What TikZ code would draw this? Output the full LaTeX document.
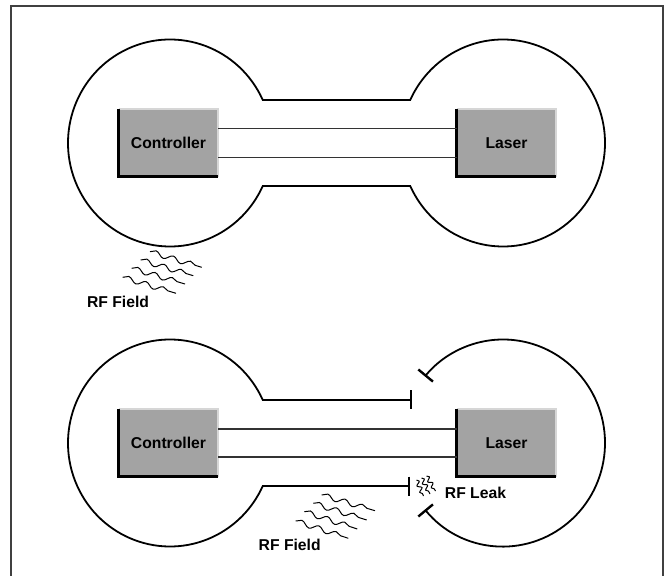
\documentclass[tikz,border=0pt]{standalone}
\usepackage{fontspec}
\setsansfont{Liberation Sans}
\usepackage{tikz}
\usetikzlibrary{arrows.meta,calc,decorations.pathmorphing}
\definecolor{boxgray}{gray}{.64}
\definecolor{boxlight}{gray}{.84}
\definecolor{framegray}{gray}{.25}
\definecolor{wiregray}{gray}{.2}

\begin{document}
\begin{tikzpicture}[x=1pt,y=1pt,
  every node/.style={font=\sffamily\bfseries\fontsize{15.7}{18}\selectfont},
  unit/.style={fill=boxgray,minimum width=99pt,minimum height=67pt,inner sep=0pt},
  edgelit/.style={boxlight,line width=2.2pt},
  edgedark/.style={black,line width=3pt},
  hull/.style={line width=1.8pt},
  gap/.style={hull,{Bar[width=19pt,line width=2.4pt]}-{Bar[width=19pt,line width=2.4pt]}},
  wire/.style={wiregray,line width=1.1pt},
  wave/.style={decorate,decoration={snake,segment length=18pt,amplitude=2.6pt},line width=1pt},
  leak/.style={decorate,decoration={snake,segment length=7pt,amplitude=2pt},line width=1pt}]
\useasboundingbox (0,0) rectangle (668,575);
\draw[framegray,line width=1.6pt] (11,-5) -- (11,569) -- (663,569) -- (663,-5);

% closed shield
\coordinate (lcA) at (170,432);
\coordinate (rcA) at (503,432);
\draw[hull] ($(lcA)+(24.55:102pt and 103.5pt)$) arc[start angle=24.55,end angle=335.45,x radius=102pt,y radius=103.5pt]
  -- ($(rcA)+(204.55:102pt and 103.5pt)$) arc[start angle=204.55,end angle=515.45,x radius=102pt,y radius=103.5pt] -- cycle;
\node[unit] (ctrlA) at (168.5,432) {Controller};
\node[unit] (laserA) at (506.5,432) {Laser};
\draw[edgelit] (ctrlA.south east) -- (ctrlA.north east) -- (ctrlA.north west);
\draw[edgedark] (ctrlA.north west) -- (ctrlA.south west) -- (ctrlA.south east);
\draw[edgelit] (laserA.south east) -- (laserA.north east) -- (laserA.north west);
\draw[edgedark] (laserA.north west) -- (laserA.south west) -- (laserA.south east);
\draw[wire] ([yshift=14.5pt]ctrlA.east) -- ([yshift=14.5pt]laserA.west);
\draw[wire] ([yshift=-14.5pt]ctrlA.east) -- ([yshift=-14.5pt]laserA.west);
\draw[wave] (150,323.3) -- (201.7,307.7);
\draw[wave] (140.7,315) -- (193.3,299.3);
\draw[wave] (131.7,306.7) -- (185,291);
\draw[wave] (122.7,297.7) -- (176,281.7);
\node (fieldA) at (118,273.5) {RF Field};

% open shield
\coordinate (lcB) at (170,132);
\coordinate (rcB) at (503,132);
\coordinate (gapTop) at (412,175);
\coordinate (gapBot) at (410,89);
\draw[gap] (gapTop) -- ($(lcB)+(24.55:102pt and 103.5pt)$) arc[start angle=24.55,end angle=335.45,x radius=102pt,y radius=103.5pt] -- (gapBot);
\draw[gap] ($(rcB)+(220:102pt and 103.5pt)$) arc[start angle=220,end angle=500,x radius=102pt,y radius=103.5pt];
\node[unit] (ctrlB) at (168.5,132) {Controller};
\node[unit] (laserB) at (506.5,132) {Laser};
\draw[edgelit] (ctrlB.south east) -- (ctrlB.north east) -- (ctrlB.north west);
\draw[edgedark] (ctrlB.north west) -- (ctrlB.south west) -- (ctrlB.south east);
\draw[edgelit] (laserB.south east) -- (laserB.north east) -- (laserB.north west);
\draw[edgedark] (laserB.north west) -- (laserB.south west) -- (laserB.south east);
\draw[wire] ([yshift=14pt]ctrlB.east) -- ([yshift=14pt]laserB.west);
\draw[wire] ([yshift=-14pt]ctrlB.east) -- ([yshift=-14pt]laserB.west);
\draw[wave] (321.7,80) -- (375,64.3);
\draw[wave] (313.3,71.7) -- (366.7,55);
\draw[wave] (304.3,63.3) -- (357.3,46);
\draw[wave] (295.7,54) -- (348.3,36.7);
\draw[leak] (416.5,95) -- (423.5,79);
\draw[leak] (421.5,97) -- (430,81);
\draw[leak] (426.5,99) -- (435.5,84);
\node (fieldB) at (289.7,30.5) {RF Field};
\node (leakB) at (475.5,82) {RF Leak};
\end{tikzpicture}
\end{document}
